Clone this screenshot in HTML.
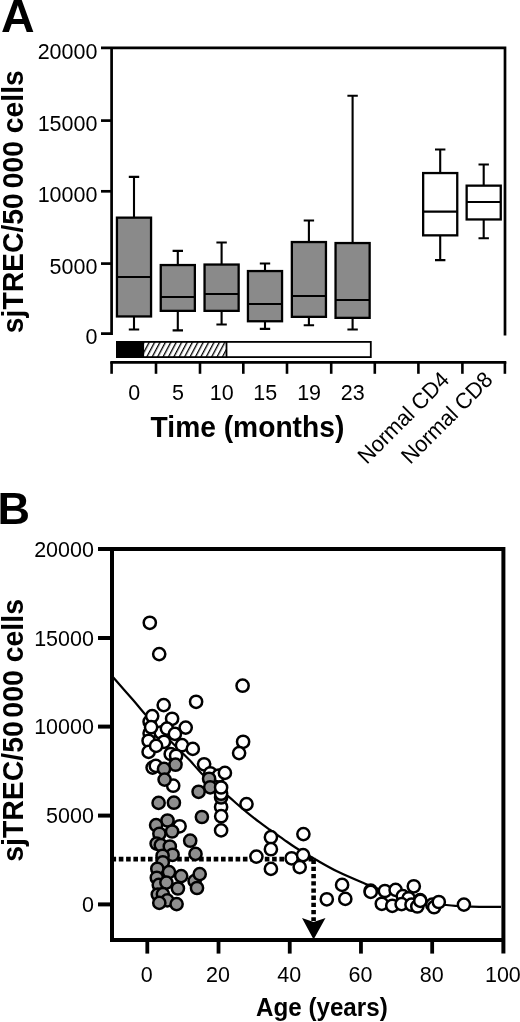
<!DOCTYPE html>
<html><head><meta charset="utf-8"><style>
html,body{margin:0;padding:0;background:#fff;width:520px;height:1022px;overflow:hidden}
svg{display:block;font-family:"Liberation Sans", sans-serif;will-change:transform}
</style></head><body>
<svg width="520" height="1022" viewBox="0 0 520 1022">
<rect width="520" height="1022" fill="#fff"/>
<path d="M101 47.8 H505 M111.6 46.45 V335 M101 333.6 H112.9 M505 46.45 V335.5" stroke="#000" stroke-width="2.7" fill="none"/>
<path d="M101 120.6 H111.6" stroke="#000" stroke-width="2.7"/>
<path d="M101 191.3 H111.6" stroke="#000" stroke-width="2.7"/>
<path d="M101 263.6 H111.6" stroke="#000" stroke-width="2.7"/>
<text transform="translate(97.4 58.5) scale(1 1.03)" text-anchor="end" font-size="21.5">20000</text>
<text transform="translate(97.4 131.3) scale(1 1.03)" text-anchor="end" font-size="21.5">15000</text>
<text transform="translate(97.4 202.0) scale(1 1.03)" text-anchor="end" font-size="21.5">10000</text>
<text transform="translate(97.4 274.3) scale(1 1.03)" text-anchor="end" font-size="21.5">5000</text>
<text transform="translate(97.4 344.3) scale(1 1.03)" text-anchor="end" font-size="21.5">0</text>
<path d="M134.00 176.9 V217.5 M134.00 316.6 V329.5 M128.80 176.9 H139.20 M128.80 329.5 H139.20" stroke="#000" stroke-width="2.1"/>
<rect x="116.95" y="217.65" width="34.10" height="98.80" fill="#8a8a8a" stroke="#000" stroke-width="2.3"/>
<path d="M116.95 277.0 H151.05" stroke="#000" stroke-width="2.1"/>
<path d="M177.80 250.9 V264.9 M177.80 311.0 V330.4 M172.60 250.9 H183.00 M172.60 330.4 H183.00" stroke="#000" stroke-width="2.1"/>
<rect x="160.75" y="265.05" width="34.10" height="45.80" fill="#8a8a8a" stroke="#000" stroke-width="2.3"/>
<path d="M160.75 297.0 H194.85" stroke="#000" stroke-width="2.1"/>
<path d="M221.60 242.5 V264.4 M221.60 311.0 V324.5 M216.40 242.5 H226.80 M216.40 324.5 H226.80" stroke="#000" stroke-width="2.1"/>
<rect x="204.55" y="264.55" width="34.10" height="46.30" fill="#8a8a8a" stroke="#000" stroke-width="2.3"/>
<path d="M204.55 294.0 H238.65" stroke="#000" stroke-width="2.1"/>
<path d="M265.00 263.5 V270.9 M265.00 321.4 V328.9 M259.80 263.5 H270.20 M259.80 328.9 H270.20" stroke="#000" stroke-width="2.1"/>
<rect x="247.95" y="271.05" width="34.10" height="50.20" fill="#8a8a8a" stroke="#000" stroke-width="2.3"/>
<path d="M247.95 304.0 H282.05" stroke="#000" stroke-width="2.1"/>
<path d="M308.90 220.5 V241.9 M308.90 317.0 V325.3 M303.70 220.5 H314.10 M303.70 325.3 H314.10" stroke="#000" stroke-width="2.1"/>
<rect x="291.85" y="242.05" width="34.10" height="74.80" fill="#8a8a8a" stroke="#000" stroke-width="2.3"/>
<path d="M291.85 296.0 H325.95" stroke="#000" stroke-width="2.1"/>
<path d="M352.60 95.7 V242.9 M352.60 318.0 V329.5 M347.40 95.7 H357.80 M347.40 329.5 H357.80" stroke="#000" stroke-width="2.1"/>
<rect x="335.55" y="243.05" width="34.10" height="74.80" fill="#8a8a8a" stroke="#000" stroke-width="2.3"/>
<path d="M335.55 300.0 H369.65" stroke="#000" stroke-width="2.1"/>
<path d="M440.20 149.5 V172.9 M440.20 235.5 V260.1 M435.00 149.5 H445.40 M435.00 260.1 H445.40" stroke="#000" stroke-width="2.1"/>
<rect x="423.15" y="173.05" width="34.10" height="62.30" fill="#fff" stroke="#000" stroke-width="2.3"/>
<path d="M423.15 211.6 H457.25" stroke="#000" stroke-width="2.1"/>
<path d="M483.70 164.5 V185.5 M483.70 219.6 V238.3 M478.50 164.5 H488.90 M478.50 238.3 H488.90" stroke="#000" stroke-width="2.1"/>
<rect x="466.65" y="185.65" width="34.10" height="33.80" fill="#fff" stroke="#000" stroke-width="2.3"/>
<path d="M466.65 202.0 H500.75" stroke="#000" stroke-width="2.1"/>
<defs><pattern id="h" width="4.77" height="10" patternUnits="userSpaceOnUse" patternTransform="translate(143.2 342) rotate(28)"><rect width="4.77" height="10" fill="#fff"/><rect x="0" width="1.3" height="10" fill="#000"/></pattern></defs>
<rect x="116.9" y="341.9" width="253.9" height="15.2" fill="#fff" stroke="#000" stroke-width="1.8"/>
<rect x="143.2" y="341.9" width="83.3" height="15.2" fill="url(#h)" stroke="#000" stroke-width="1.8"/>
<rect x="116" y="341" width="27.2" height="17" fill="#000"/>
<path d="M110.3 362.3 H506.3" stroke="#000" stroke-width="2.8"/>
<path d="M111.60 362 V373.8" stroke="#000" stroke-width="2.6"/>
<path d="M156.00 362 V373.8" stroke="#000" stroke-width="2.6"/>
<path d="M200.00 362 V373.8" stroke="#000" stroke-width="2.6"/>
<path d="M243.30 362 V373.8" stroke="#000" stroke-width="2.6"/>
<path d="M287.00 362 V373.8" stroke="#000" stroke-width="2.6"/>
<path d="M331.20 362 V373.8" stroke="#000" stroke-width="2.6"/>
<path d="M374.80 362 V373.8" stroke="#000" stroke-width="2.6"/>
<path d="M418.40 362 V373.8" stroke="#000" stroke-width="2.6"/>
<path d="M462.40 362 V373.8" stroke="#000" stroke-width="2.6"/>
<path d="M504.90 362 V373.8" stroke="#000" stroke-width="2.6"/>
<text transform="translate(134.2 400.2) scale(1 1.03)" text-anchor="middle" font-size="21.5">0</text>
<text transform="translate(178.0 400.2) scale(1 1.03)" text-anchor="middle" font-size="21.5">5</text>
<text transform="translate(221.8 400.2) scale(1 1.03)" text-anchor="middle" font-size="21.5">10</text>
<text transform="translate(265.2 400.2) scale(1 1.03)" text-anchor="middle" font-size="21.5">15</text>
<text transform="translate(309.1 400.2) scale(1 1.03)" text-anchor="middle" font-size="21.5">19</text>
<text transform="translate(352.8 400.2) scale(1 1.03)" text-anchor="middle" font-size="21.5">23</text>
<text transform="translate(150.6 437) scale(1 1.05)" font-size="28.2" font-weight="bold">Time (months)</text>
<text transform="translate(450.6 381.1) rotate(-45) scale(1 1.03)" text-anchor="end" font-size="21.6">Normal CD4</text>
<text transform="translate(494.1 381.1) rotate(-45) scale(1 1.03)" text-anchor="end" font-size="21.6">Normal CD8</text>
<text x="0.9" y="32" font-size="46.5" font-weight="bold">A</text>
<text transform="translate(23.1 201.7) rotate(-90) scale(1 1.05)" text-anchor="middle" font-size="28.3" font-weight="bold">sjTREC/50<tspan dx="5.1">000</tspan> cells</text>
<path d="M98 549 H503.4 M112 547 V942 M110 940 H505.4 M503.4 547 V953.6" stroke="#000" stroke-width="4" fill="none"/>
<path d="M98 549 H112" stroke="#000" stroke-width="4"/>
<text transform="translate(93.9 556.8) scale(1 1.03)" text-anchor="end" font-size="21.5">20000</text>
<path d="M98 638 H112" stroke="#000" stroke-width="4"/>
<text transform="translate(93.9 645.8) scale(1 1.03)" text-anchor="end" font-size="21.5">15000</text>
<path d="M98 726.6 H112" stroke="#000" stroke-width="4"/>
<text transform="translate(93.9 734.4) scale(1 1.03)" text-anchor="end" font-size="21.5">10000</text>
<path d="M98 815.6 H112" stroke="#000" stroke-width="4"/>
<text transform="translate(93.9 823.4) scale(1 1.03)" text-anchor="end" font-size="21.5">5000</text>
<path d="M98 904.4 H112" stroke="#000" stroke-width="4"/>
<text transform="translate(93.9 912.2) scale(1 1.03)" text-anchor="end" font-size="21.5">0</text>
<path d="M147.30 942 V953.6" stroke="#000" stroke-width="3.8"/>
<text transform="translate(146.8 982) scale(1 1.03)" text-anchor="middle" font-size="21.5">0</text>
<path d="M218.52 942 V953.6" stroke="#000" stroke-width="3.8"/>
<text transform="translate(218.0 982) scale(1 1.03)" text-anchor="middle" font-size="21.5">20</text>
<path d="M289.74 942 V953.6" stroke="#000" stroke-width="3.8"/>
<text transform="translate(289.2 982) scale(1 1.03)" text-anchor="middle" font-size="21.5">40</text>
<path d="M360.96 942 V953.6" stroke="#000" stroke-width="3.8"/>
<text transform="translate(360.5 982) scale(1 1.03)" text-anchor="middle" font-size="21.5">60</text>
<path d="M432.18 942 V953.6" stroke="#000" stroke-width="3.8"/>
<text transform="translate(431.7 982) scale(1 1.03)" text-anchor="middle" font-size="21.5">80</text>
<text transform="translate(502.9 982) scale(1 1.03)" text-anchor="middle" font-size="21.5">100</text>
<text transform="translate(256 1016.3) scale(1 1.05)" font-size="24.2" font-weight="bold">Age (years)</text>
<text x="-2.4" y="524.2" font-size="45" font-weight="bold">B</text>
<text transform="translate(23.1 730.4) rotate(-90) scale(1 1.05)" text-anchor="middle" font-size="28.45" font-weight="bold">sjTREC/50<tspan dx="3.5">000</tspan> cells</text>
<path d="M112 676.1 C112.30 676.43 110.28 674.12 113.8 678.1 C117.32 682.08 128.10 694.23 133.1 700 C138.10 705.77 139.32 707.67 143.8 712.7 C148.28 717.73 154.80 724.72 160 730.2 C165.20 735.68 170.00 740.53 175 745.6 C180.00 750.67 185.53 755.92 190 760.6 C194.47 765.28 197.63 769.53 201.8 773.7 C205.97 777.87 210.62 781.85 215 785.6 C219.38 789.35 224.00 792.77 228.1 796.2 C232.20 799.63 236.57 803.60 239.6 806.2 C242.63 808.80 243.00 809.13 246.3 811.8 C249.60 814.47 255.55 819.25 259.4 822.2 C263.25 825.15 265.43 826.68 269.4 829.5 C273.37 832.32 278.87 836.10 283.2 839.1 C287.53 842.10 289.93 844.05 295.4 847.5 C300.87 850.95 308.98 855.78 316 859.8 C323.02 863.82 329.42 867.65 337.5 871.6 C345.58 875.55 357.42 880.50 364.5 883.5 C371.58 886.50 374.08 887.47 380 889.6 C385.92 891.73 393.33 894.35 400 896.3 C406.67 898.25 412.28 899.85 420 901.3 C427.72 902.75 440.25 904.22 446.3 905 C452.35 905.78 452.13 905.73 456.3 906 C460.47 906.27 465.68 906.45 471.3 906.6 C476.92 906.75 485.05 906.85 490 906.9 C494.95 906.95 499.17 906.90 501 906.9" stroke="#000" stroke-width="2.2" fill="none"/>
<path d="M111.5 859.1 H316" stroke="#000" stroke-width="4.6" stroke-dasharray="4.6 2.7" fill="none"/>
<path d="M313.6 859.6 V921" stroke="#000" stroke-width="4.6" stroke-dasharray="4.3 2.9" fill="none"/>
<path d="M313.6 939.5 L302 918 L313.6 922 L325.5 918 Z" fill="#000"/>
<circle cx="149.8" cy="622.8" r="6.1" fill="#fff" stroke="#000" stroke-width="2.5"/>
<circle cx="159.2" cy="654.1" r="6.1" fill="#fff" stroke="#000" stroke-width="2.5"/>
<circle cx="242.6" cy="685.7" r="6.1" fill="#fff" stroke="#000" stroke-width="2.5"/>
<circle cx="196.1" cy="701.8" r="6.1" fill="#fff" stroke="#000" stroke-width="2.5"/>
<circle cx="163.7" cy="705.1" r="6.1" fill="#fff" stroke="#000" stroke-width="2.5"/>
<circle cx="149.6" cy="721.8" r="6.1" fill="#fff" stroke="#000" stroke-width="2.5"/>
<circle cx="149.6" cy="733.3" r="6.1" fill="#fff" stroke="#000" stroke-width="2.5"/>
<circle cx="160.7" cy="732.6" r="6.1" fill="#fff" stroke="#000" stroke-width="2.5"/>
<circle cx="152.2" cy="716.1" r="6.1" fill="#fff" stroke="#000" stroke-width="2.5"/>
<circle cx="172.1" cy="718.8" r="6.1" fill="#fff" stroke="#000" stroke-width="2.5"/>
<circle cx="151.1" cy="727.2" r="6.1" fill="#fff" stroke="#000" stroke-width="2.5"/>
<circle cx="185.7" cy="727.6" r="6.1" fill="#fff" stroke="#000" stroke-width="2.5"/>
<circle cx="166.9" cy="728.6" r="6.1" fill="#fff" stroke="#000" stroke-width="2.5"/>
<circle cx="174.9" cy="733.9" r="6.1" fill="#fff" stroke="#000" stroke-width="2.5"/>
<circle cx="148.6" cy="740.8" r="6.1" fill="#fff" stroke="#000" stroke-width="2.5"/>
<circle cx="164.0" cy="741.8" r="6.1" fill="#fff" stroke="#000" stroke-width="2.5"/>
<circle cx="182.0" cy="745.2" r="6.1" fill="#fff" stroke="#000" stroke-width="2.5"/>
<circle cx="192.8" cy="748.9" r="6.1" fill="#fff" stroke="#000" stroke-width="2.5"/>
<circle cx="148.6" cy="751.9" r="6.1" fill="#fff" stroke="#000" stroke-width="2.5"/>
<circle cx="156.1" cy="745.9" r="6.1" fill="#fff" stroke="#000" stroke-width="2.5"/>
<circle cx="170.7" cy="754.0" r="6.1" fill="#fff" stroke="#000" stroke-width="2.5"/>
<circle cx="176.1" cy="755.8" r="6.1" fill="#fff" stroke="#000" stroke-width="2.5"/>
<circle cx="152.6" cy="767.6" r="6.1" fill="#fff" stroke="#000" stroke-width="2.5"/>
<circle cx="155.8" cy="765.9" r="6.1" fill="#fff" stroke="#000" stroke-width="2.5"/>
<circle cx="173.2" cy="785.7" r="6.1" fill="#fff" stroke="#000" stroke-width="2.5"/>
<circle cx="179.6" cy="826.3" r="6.1" fill="#fff" stroke="#000" stroke-width="2.5"/>
<circle cx="204.1" cy="764.3" r="6.1" fill="#fff" stroke="#000" stroke-width="2.5"/>
<circle cx="243.1" cy="741.8" r="6.1" fill="#fff" stroke="#000" stroke-width="2.5"/>
<circle cx="239.1" cy="753.1" r="6.1" fill="#fff" stroke="#000" stroke-width="2.5"/>
<circle cx="246.5" cy="804.1" r="6.1" fill="#fff" stroke="#000" stroke-width="2.5"/>
<circle cx="270.9" cy="837.2" r="6.1" fill="#fff" stroke="#000" stroke-width="2.5"/>
<circle cx="270.9" cy="849.2" r="6.1" fill="#fff" stroke="#000" stroke-width="2.5"/>
<circle cx="256.4" cy="856.6" r="6.1" fill="#fff" stroke="#000" stroke-width="2.5"/>
<circle cx="270.9" cy="868.9" r="6.1" fill="#fff" stroke="#000" stroke-width="2.5"/>
<circle cx="303.4" cy="834.1" r="6.1" fill="#fff" stroke="#000" stroke-width="2.5"/>
<circle cx="291.6" cy="858.3" r="6.1" fill="#fff" stroke="#000" stroke-width="2.5"/>
<circle cx="303.1" cy="855.1" r="6.1" fill="#fff" stroke="#000" stroke-width="2.5"/>
<circle cx="299.7" cy="867.1" r="6.1" fill="#fff" stroke="#000" stroke-width="2.5"/>
<circle cx="342.1" cy="884.9" r="6.1" fill="#fff" stroke="#000" stroke-width="2.5"/>
<circle cx="326.8" cy="899.3" r="6.1" fill="#fff" stroke="#000" stroke-width="2.5"/>
<circle cx="345.3" cy="898.9" r="6.1" fill="#fff" stroke="#000" stroke-width="2.5"/>
<circle cx="370.7" cy="890.7" r="6.1" fill="#fff" stroke="#000" stroke-width="2.5"/>
<circle cx="370.7" cy="891.9" r="6.1" fill="#fff" stroke="#000" stroke-width="2.5"/>
<circle cx="384.9" cy="891.0" r="6.1" fill="#fff" stroke="#000" stroke-width="2.5"/>
<circle cx="395.6" cy="889.9" r="6.1" fill="#fff" stroke="#000" stroke-width="2.5"/>
<circle cx="413.8" cy="886.3" r="6.1" fill="#fff" stroke="#000" stroke-width="2.5"/>
<circle cx="402.8" cy="896.1" r="6.1" fill="#fff" stroke="#000" stroke-width="2.5"/>
<circle cx="408.6" cy="898.3" r="6.1" fill="#fff" stroke="#000" stroke-width="2.5"/>
<circle cx="420.1" cy="900.1" r="6.1" fill="#fff" stroke="#000" stroke-width="2.5"/>
<circle cx="381.8" cy="903.8" r="6.1" fill="#fff" stroke="#000" stroke-width="2.5"/>
<circle cx="392.3" cy="905.8" r="6.1" fill="#fff" stroke="#000" stroke-width="2.5"/>
<circle cx="401.6" cy="904.1" r="6.1" fill="#fff" stroke="#000" stroke-width="2.5"/>
<circle cx="411.5" cy="904.7" r="6.1" fill="#fff" stroke="#000" stroke-width="2.5"/>
<circle cx="417.3" cy="906.5" r="6.1" fill="#fff" stroke="#000" stroke-width="2.5"/>
<circle cx="420.3" cy="900.9" r="6.1" fill="#fff" stroke="#000" stroke-width="2.5"/>
<circle cx="432.3" cy="904.7" r="6.1" fill="#fff" stroke="#000" stroke-width="2.5"/>
<circle cx="434.1" cy="907.2" r="6.1" fill="#fff" stroke="#000" stroke-width="2.5"/>
<circle cx="438.8" cy="902.0" r="6.1" fill="#fff" stroke="#000" stroke-width="2.5"/>
<circle cx="463.9" cy="904.6" r="6.1" fill="#fff" stroke="#000" stroke-width="2.5"/>
<circle cx="210.3" cy="773.3" r="6.1" fill="#fff" stroke="#000" stroke-width="2.5"/>
<circle cx="218.8" cy="775.5" r="6.1" fill="#fff" stroke="#000" stroke-width="2.5"/>
<circle cx="175.5" cy="764.7" r="6.1" fill="#8f8f8f" stroke="#000" stroke-width="2.5"/>
<circle cx="164.0" cy="768.9" r="6.1" fill="#8f8f8f" stroke="#000" stroke-width="2.5"/>
<circle cx="164.6" cy="779.6" r="6.1" fill="#8f8f8f" stroke="#000" stroke-width="2.5"/>
<circle cx="209.1" cy="778.8" r="6.1" fill="#8f8f8f" stroke="#000" stroke-width="2.5"/>
<circle cx="210.2" cy="787.3" r="6.1" fill="#8f8f8f" stroke="#000" stroke-width="2.5"/>
<circle cx="198.6" cy="791.8" r="6.1" fill="#8f8f8f" stroke="#000" stroke-width="2.5"/>
<circle cx="201.9" cy="817.0" r="6.1" fill="#8f8f8f" stroke="#000" stroke-width="2.5"/>
<circle cx="158.6" cy="802.9" r="6.1" fill="#8f8f8f" stroke="#000" stroke-width="2.5"/>
<circle cx="173.9" cy="802.7" r="6.1" fill="#8f8f8f" stroke="#000" stroke-width="2.5"/>
<circle cx="167.5" cy="820.5" r="6.1" fill="#8f8f8f" stroke="#000" stroke-width="2.5"/>
<circle cx="156.1" cy="825.1" r="6.1" fill="#8f8f8f" stroke="#000" stroke-width="2.5"/>
<circle cx="159.4" cy="833.8" r="6.1" fill="#8f8f8f" stroke="#000" stroke-width="2.5"/>
<circle cx="172.1" cy="831.5" r="6.1" fill="#8f8f8f" stroke="#000" stroke-width="2.5"/>
<circle cx="190.2" cy="840.7" r="6.1" fill="#8f8f8f" stroke="#000" stroke-width="2.5"/>
<circle cx="156.6" cy="843.6" r="6.1" fill="#8f8f8f" stroke="#000" stroke-width="2.5"/>
<circle cx="160.8" cy="845.1" r="6.1" fill="#8f8f8f" stroke="#000" stroke-width="2.5"/>
<circle cx="169.8" cy="846.5" r="6.1" fill="#8f8f8f" stroke="#000" stroke-width="2.5"/>
<circle cx="172.6" cy="854.8" r="6.1" fill="#8f8f8f" stroke="#000" stroke-width="2.5"/>
<circle cx="162.6" cy="855.8" r="6.1" fill="#8f8f8f" stroke="#000" stroke-width="2.5"/>
<circle cx="195.5" cy="853.9" r="6.1" fill="#8f8f8f" stroke="#000" stroke-width="2.5"/>
<circle cx="162.8" cy="862.3" r="6.1" fill="#8f8f8f" stroke="#000" stroke-width="2.5"/>
<circle cx="157.3" cy="868.8" r="6.1" fill="#8f8f8f" stroke="#000" stroke-width="2.5"/>
<circle cx="169.0" cy="872.1" r="6.1" fill="#8f8f8f" stroke="#000" stroke-width="2.5"/>
<circle cx="181.2" cy="876.1" r="6.1" fill="#8f8f8f" stroke="#000" stroke-width="2.5"/>
<circle cx="156.8" cy="877.8" r="6.1" fill="#8f8f8f" stroke="#000" stroke-width="2.5"/>
<circle cx="158.8" cy="884.9" r="6.1" fill="#8f8f8f" stroke="#000" stroke-width="2.5"/>
<circle cx="166.4" cy="882.6" r="6.1" fill="#8f8f8f" stroke="#000" stroke-width="2.5"/>
<circle cx="177.9" cy="888.5" r="6.1" fill="#8f8f8f" stroke="#000" stroke-width="2.5"/>
<circle cx="157.8" cy="894.5" r="6.1" fill="#8f8f8f" stroke="#000" stroke-width="2.5"/>
<circle cx="162.9" cy="894.1" r="6.1" fill="#8f8f8f" stroke="#000" stroke-width="2.5"/>
<circle cx="167.3" cy="900.4" r="6.1" fill="#8f8f8f" stroke="#000" stroke-width="2.5"/>
<circle cx="159.3" cy="902.9" r="6.1" fill="#8f8f8f" stroke="#000" stroke-width="2.5"/>
<circle cx="176.6" cy="904.1" r="6.1" fill="#8f8f8f" stroke="#000" stroke-width="2.5"/>
<circle cx="194.6" cy="881.1" r="6.1" fill="#8f8f8f" stroke="#000" stroke-width="2.5"/>
<circle cx="199.7" cy="874.1" r="6.1" fill="#8f8f8f" stroke="#000" stroke-width="2.5"/>
<circle cx="197.0" cy="888.0" r="6.1" fill="#8f8f8f" stroke="#000" stroke-width="2.5"/>
<circle cx="224.9" cy="772.9" r="6.1" fill="#fff" stroke="#000" stroke-width="2.5"/>
<circle cx="221.1" cy="806.9" r="6.1" fill="#fff" stroke="#000" stroke-width="2.5"/>
<circle cx="221.1" cy="797.5" r="6.1" fill="#8f8f8f" stroke="#000" stroke-width="2.5"/>
<circle cx="221.1" cy="793.7" r="6.1" fill="#fff" stroke="#000" stroke-width="2.5"/>
<circle cx="221.1" cy="787.5" r="6.1" fill="#fff" stroke="#000" stroke-width="2.5"/>
<circle cx="221.2" cy="816.2" r="6.1" fill="#fff" stroke="#000" stroke-width="2.5"/>
<circle cx="221.1" cy="830.4" r="6.1" fill="#fff" stroke="#000" stroke-width="2.5"/>
</svg>
</body></html>
